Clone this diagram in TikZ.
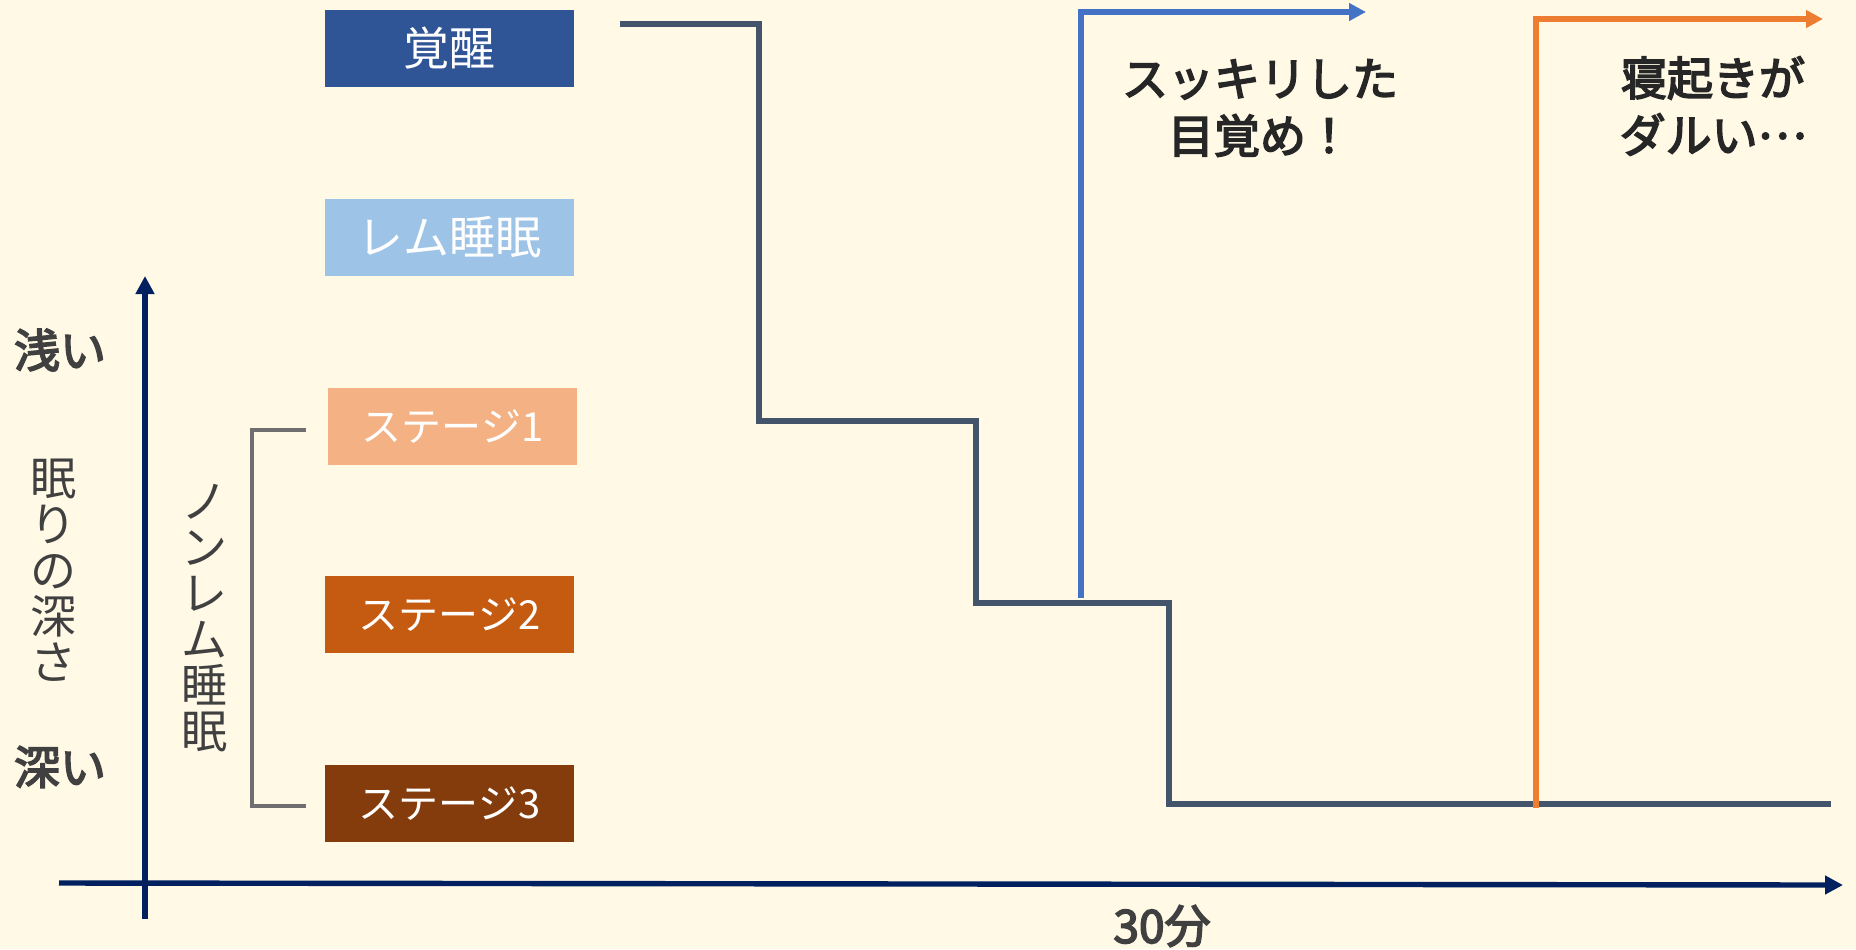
\documentclass[tikz,border=0pt]{standalone}
\usepackage{fontspec}
\setmainfont{Noto Sans CJK JP}
\newfontfamily\jpmed[FakeBold=3.5]{Noto Sans CJK JP}
\usetikzlibrary{arrows.meta}
\definecolor{bg}{HTML}{FFF9E6}
\definecolor{cWake}{HTML}{2F5597}
\definecolor{cRem}{HTML}{9DC3E6}
\definecolor{cS1}{HTML}{F4B183}
\definecolor{cS2}{HTML}{C55A11}
\definecolor{cS3}{HTML}{843C0C}
\definecolor{cHyp}{HTML}{44546A}
\definecolor{cAxis}{HTML}{002060}
\definecolor{cBlue}{HTML}{4472C4}
\definecolor{cOrange}{HTML}{ED7D31}
\definecolor{cLab}{HTML}{404040}
\definecolor{cTxt}{HTML}{262626}
\definecolor{cBrk}{HTML}{6F6F6F}
\tikzset{
  stagebox/.style={fill=#1, text=white, minimum width=124.5pt, minimum height=38.5pt, inner sep=0pt, font=\fontsize{20}{24}\selectfont},
  bigbox/.style={stagebox=#1, font=\fontsize{23}{27}\selectfont},
  axisline/.style={draw=cAxis, line width=2.7pt, -{Triangle[length=9pt,width=9pt]}},
  hypline/.style={draw=cHyp, line width=3pt},
  outline/.style={line width=2.6pt, -{Triangle[length=8.5pt,width=8.5pt]}},
  lab/.style={text=cLab, font=\fontsize{23}{23}\selectfont\jpmed, inner sep=0pt},
  vlab/.style={text=cLab, font=\fontsize{23}{23}\selectfont, align=center, inner sep=0pt},
  note/.style={text=cTxt, font=\fontsize{23}{28.5}\selectfont\jpmed, align=center, inner sep=0pt}
}
\begin{document}
\begin{tikzpicture}[x=0.5pt,y=-0.5pt]
\useasboundingbox (0,0) rectangle (1856,949);
\fill[bg] (0,0) rectangle (1856,949);
% stage boxes
\node[bigbox=cWake] (wake) at (449.5,48.5) {覚醒};
\node[bigbox=cRem] (rem) at (449.5,237.5) {レム睡眠};
\node[stagebox=cS1] (s1) at (452.5,426.5) {ステージ1};
\node[stagebox=cS2] (s2) at (449.5,614.5) {ステージ2};
\node[stagebox=cS3] (s3) at (449.5,803.5) {ステージ3};
% axes
\coordinate (yb) at (145,919);
\coordinate (yt) at (145,276);
\coordinate (xl) at (59,883);
\coordinate (xr) at (1843,885);
\draw[axisline] (yb) -- (yt);
\draw[axisline] (xl) -- (xr);
% axis labels
\node[lab] (shallow) at (60,350) {浅い};
\node[lab] (deep) at (60,767) {深い};
\node[vlab] (depth) at (53,570) {眠\\り\\の\\深\\さ};
\node[lab] (time) at (1162,926) {30分};
% bracket
\coordinate (bt) at (306,430);
\coordinate (bb) at (306,806);
\draw[draw=cBrk, line width=2.3pt] (bt) -- (252,430) -- (252,806) -- (bb);
\node[vlab] (nrem) at (204,618) {ノ\\ン\\レ\\ム\\睡\\眠};
% hypnogram
\coordinate (h0) at (620,24);
\coordinate (h1) at (759,421);
\coordinate (h2) at (976,603);
\coordinate (h3) at (1169,804);
\coordinate (h4) at (1831,804);
\draw[hypline] (h0) -| (h1) -| (h2) -| (h3) -- (h4);
% wake arrows
\coordinate (b0) at (1081,598);
\coordinate (b1) at (1366,12);
\coordinate (o0) at (1536,808);
\coordinate (o1) at (1823,19);
\draw[outline, cBlue] (b0) |- (b1);
\draw[outline, cOrange] (o0) |- (o1);
% notes
\node[note] (good) at (1260,108) {スッキリした\\目覚め！};
\node[note] (bad) at (1713,106) {寝起きが\\ダルい\raisebox{0.3em}{…}};
\end{tikzpicture}
\end{document}
